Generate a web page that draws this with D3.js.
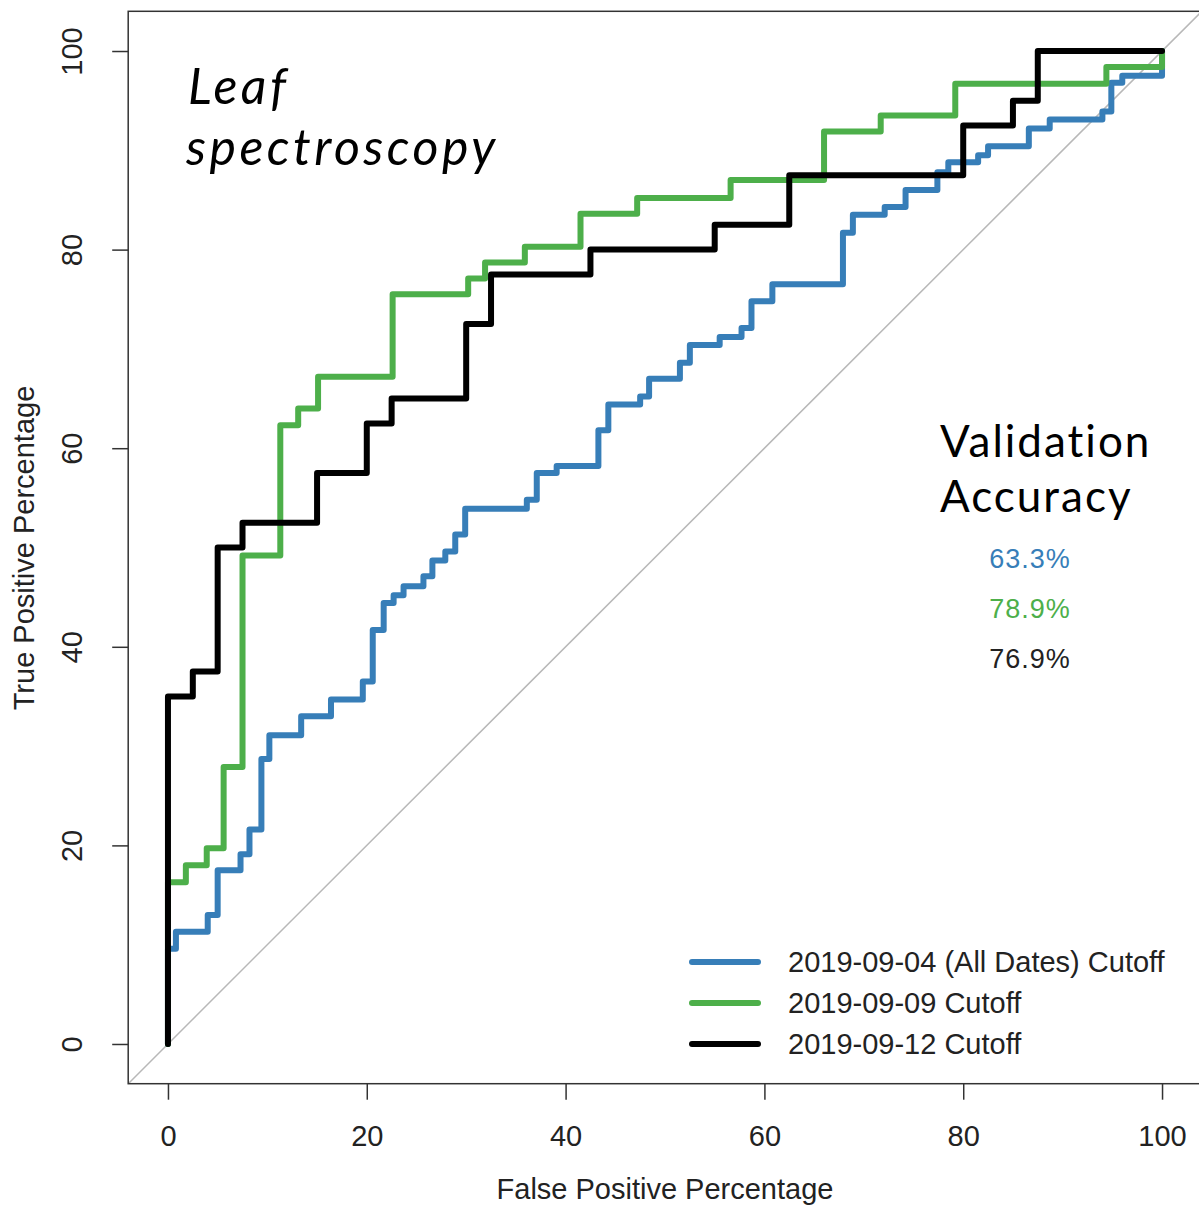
<!DOCTYPE html>
<html>
<head>
<meta charset="utf-8">
<script src="https://cdn.jsdelivr.net/npm/d3@7"></script>
<style>
  body { margin: 0; background: #fff; }
  svg { display: block; }
  .tick text { font-family: "Liberation Sans", Arial, sans-serif; font-size: 29px; fill: #222; }
  .tick line { stroke: #333; stroke-width: 1.5; }
</style>
</head>
<body>
<svg width="1199" height="1205"></svg>
<script>
// ROC curves, points where each step ends (FPR %, TPR %)
var allDatesFpr = [0, 0, 0.8, 4.0, 5.0, 7.3, 8.2, 9.4, 10.2, 13.4, 16.4, 19.6, 20.6, 21.7, 22.7, 23.7, 25.7, 26.6, 27.9, 28.9, 29.9, 36.1, 37.1, 39.1, 43.3, 44.3, 47.5, 48.4, 51.5, 52.5, 55.5, 57.7, 58.7, 60.8, 67.9, 68.9, 72.1, 74.2, 77.4, 78.5, 81.5, 82.5, 86.6, 88.7, 94.0, 94.9, 96.0, 100];
var allDatesTpr = [0, 9.6, 11.3, 13.0, 17.5, 19.1, 21.6, 28.7, 31.1, 33.0, 34.7, 36.5, 41.7, 44.4, 45.2, 46.1, 47.1, 48.7, 49.6, 51.3, 53.9, 54.8, 57.5, 58.2, 61.8, 64.4, 65.2, 67.0, 68.6, 70.4, 71.2, 72.1, 74.8, 76.5, 81.7, 83.5, 84.3, 86.0, 87.8, 88.8, 89.5, 90.4, 92.2, 93.1, 93.9, 96.8, 97.5, 100];

var sept09Fpr = [0, 0, 1.8, 3.9, 5.6, 7.5, 11.3, 13.1, 15.1, 22.6, 30.2, 31.9, 35.9, 41.5, 47.2, 56.6, 66.0, 71.7, 79.2, 94.4, 100];
var sept09Tpr = [0, 16.3, 18.0, 19.7, 27.9, 49.2, 62.3, 64.0, 67.2, 75.5, 77.1, 78.7, 80.3, 83.6, 85.2, 87.0, 91.9, 93.5, 96.7, 98.4, 100];

var sept12Fpr = [0, 0, 2.5, 5, 7.5, 15, 20, 22.5, 30, 32.5, 42.5, 55, 62.5, 80, 85, 87.5, 100];
var sept12Tpr = [0, 35, 37.5, 50, 52.5, 57.5, 62.5, 65, 72.5, 77.5, 80, 82.5, 87.5, 92.5, 95, 100, 100];

var seriesNames = ["2019-09-04 (All Dates) Cutoff", "2019-09-09 Cutoff", "2019-09-12 Cutoff"];
var accuracyLabels = ["63.3%", "78.9%", "76.9%"];
var xTicks = [0, 20, 40, 60, 80, 100];
var yTicks = [0, 20, 40, 60, 80, 100];

var colors = ["#377eb8", "#4daf4a", "#000000"];

var series = [
  { name: seriesNames[0], fpr: allDatesFpr, tpr: allDatesTpr, color: colors[0] },
  { name: seriesNames[1], fpr: sept09Fpr, tpr: sept09Tpr, color: colors[1] },
  { name: seriesNames[2], fpr: sept12Fpr, tpr: sept12Tpr, color: colors[2] }
];

var svg = d3.select("svg");

// R pads the range by 4% on each side
var x = d3.scaleLinear().domain([-4, 104]).range([128.2, 1201.8]);
var y = d3.scaleLinear().domain([-4, 104]).range([1083.7, 11.3]);

// diagonal reference line
svg.append("line")
  .attr("x1", x(-4)).attr("y1", y(-4))
  .attr("x2", x(104)).attr("y2", y(104))
  .attr("stroke", "#b8b8b8")
  .attr("stroke-width", 1.5);

var line = d3.line()
  .x(function(d) { return x(d[0]); })
  .y(function(d) { return y(d[1]); })
  .curve(d3.curveStepAfter);

svg.append("g")
  .selectAll("path")
  .data(series)
  .enter().append("path")
  .attr("d", function(s) { return line(d3.zip(s.fpr, s.tpr)); })
  .attr("fill", "none")
  .attr("stroke", function(s) { return s.color; })
  .attr("stroke-width", 6)
  .attr("stroke-linejoin", "round")
  .attr("stroke-linecap", "round");

// plot box
svg.append("rect")
  .attr("x", x(-4)).attr("y", y(104))
  .attr("width", x(104) - x(-4)).attr("height", y(-4) - y(104))
  .attr("fill", "none")
  .attr("stroke", "#333")
  .attr("stroke-width", 1.5);

// axes
var xAxis = svg.append("g")
  .attr("transform", "translate(0," + y(-4) + ")")
  .call(d3.axisBottom(x).tickValues(xTicks).tickSize(16).tickPadding(26));
xAxis.select(".domain").remove();

var yAxis = svg.append("g")
  .attr("transform", "translate(" + x(-4) + ",0)")
  .call(d3.axisLeft(y).tickValues(yTicks).tickSize(16));
yAxis.select(".domain").remove();
yAxis.selectAll(".tick text")
  .attr("x", 0)
  .attr("dy", 0)
  .attr("text-anchor", "middle")
  .attr("transform", "translate(-46,0) rotate(-90)");

svg.append("text")
  .attr("x", 665).attr("y", 1199)
  .attr("text-anchor", "middle")
  .style("font-family", "'Liberation Sans', Arial, sans-serif")
  .style("font-size", "29px")
  .style("fill", "#222")
  .text("False Positive Percentage");

svg.append("text")
  .attr("transform", "translate(34,548) rotate(-90)")
  .attr("text-anchor", "middle")
  .style("font-family", "'Liberation Sans', Arial, sans-serif")
  .style("font-size", "29px")
  .style("fill", "#222")
  .text("True Positive Percentage");

// legend
var legend = svg.append("g")
  .selectAll("g")
  .data(series)
  .enter().append("g")
  .attr("transform", function(d, i) { return "translate(692," + (962 + i * 41) + ")"; });

legend.append("line")
  .attr("x1", 0).attr("x2", 66)
  .attr("stroke", function(d) { return d.color; })
  .attr("stroke-width", 6)
  .attr("stroke-linecap", "round");

legend.append("text")
  .attr("x", 96)
  .attr("dy", "0.36em")
  .style("font-family", "'Liberation Sans', Arial, sans-serif")
  .style("font-size", "29px")
  .style("fill", "#222")
  .text(function(d) { return d.name; });

// annotations
var title = svg.append("text")
  .style("font-family", "Lato, 'Open Sans', sans-serif")
  .style("font-style", "italic")
  .style("font-size", "50px")
  .style("letter-spacing", "3.5px")
  .style("fill", "#000");
title.append("tspan").attr("x", 188).attr("y", 104).text("Leaf");
title.append("tspan").attr("x", 186).attr("y", 165).text("spectroscopy");

var valid = svg.append("text")
  .style("font-family", "Lato, 'Open Sans', sans-serif")
  .style("font-size", "44px")
  .style("letter-spacing", "2px")
  .style("fill", "#000");
valid.append("tspan").attr("x", 940).attr("y", 457).text("Validation");
valid.append("tspan").attr("x", 940).attr("y", 512).text("Accuracy");

svg.append("g")
  .selectAll("text")
  .data(accuracyLabels)
  .enter().append("text")
  .attr("x", 1030)
  .attr("y", function(d, i) { return 568 + i * 50; })
  .attr("text-anchor", "middle")
  .style("font-family", "'Liberation Sans', Arial, sans-serif")
  .style("font-size", "27px")
  .style("letter-spacing", "1px")
  .style("fill", function(d, i) { return i === 2 ? "#222" : colors[i]; })
  .text(function(d) { return d; });
</script>
</body>
</html>
